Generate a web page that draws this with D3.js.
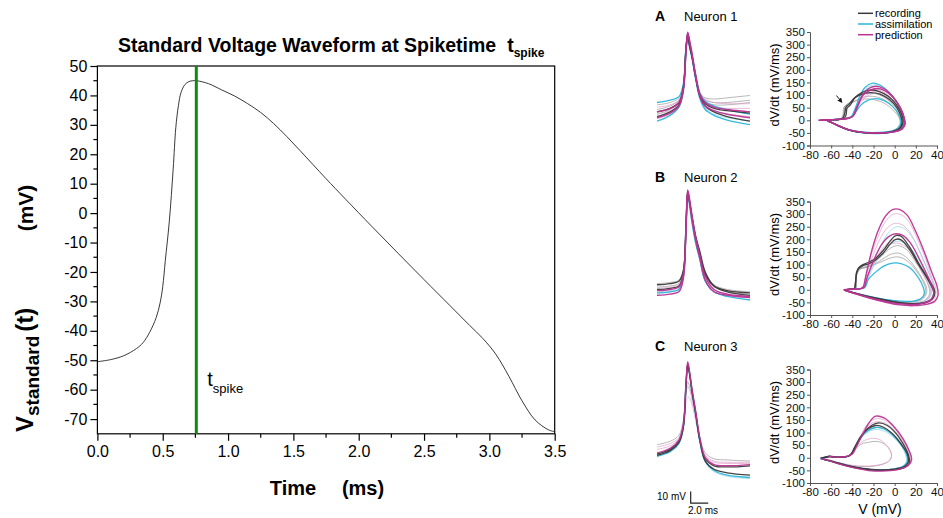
<!DOCTYPE html>
<html lang="en">
<head>
<meta charset="UTF-8">
<title>Standard Voltage Waveform</title>
<script src="https://d3js.org/d3.v7.min.js"></script>
<style>
  body { margin: 0; background: #fff; }
  svg { display: block; font-family: Arial, "Liberation Sans", sans-serif; }
</style>
</head>
<body>
<svg id="main" width="943" height="518"></svg>
<script>
// ---------- left chart data ----------
const timeMs = [0, 0.1, 0.2, 0.3, 0.35, 0.4, 0.45, 0.48, 0.5, 0.52, 0.55, 0.58, 0.6, 0.62, 0.64, 0.67, 0.7, 0.73, 0.76,
  0.85, 0.95, 1.05, 1.15, 1.25, 1.35, 1.45, 1.55, 1.65, 1.75, 1.9, 2.1, 2.3, 2.5, 2.7, 2.85, 2.95, 3.05, 3.15, 3.25, 3.35, 3.45, 3.5];
const vStandard = [-50.5, -49.8, -48.5, -46, -44, -40.5, -35.5, -30.5, -25, -16, -3, 15, 29, 36.5, 41, 43.7, 44.7, 45, 45,
  44.0, 41.9, 39.8, 37.2, 34.2, 30.4, 26.0, 21.3, 16.5, 11.7, 4.7, -4.5, -13.6, -22.6, -31.5, -38.2, -42.6, -48.0, -55.5, -63.8, -70.3, -73.6, -74.3];
const tSpike = 0.757;
const xTicks = [0, 0.5, 1.0, 1.5, 2.0, 2.5, 3.0, 3.5];
const yTicks = [50, 40, 30, 20, 10, 0, -10, -20, -30, -40, -50, -60, -70];

// ---------- right panels data ----------
// waveform time points (ms), values are mV
const waveT = [0, 1.5, 2.5, 3.0, 3.3, 3.5, 3.7, 4.0, 4.4, 4.9, 5.5, 6.5, 8, 10.6];
const wavesA = [
  ['recPale', [-52, -50, -46, -35, -4, 5, -3, -12, -28, -42, -46, -47, -46, -44]],
  ['recPale', [-56, -53, -48, -36, -3, 6, -2, -11, -27, -42, -48, -50, -50, -48]],
  ['recPale', [-60, -56, -50, -38, -5, 6, -2, -12, -29, -44, -50, -52, -52, -50]],
  ['predPale', [-54, -52, -48, -36, -4, 8, 1, -9, -26, -42, -47, -50, -51, -51]],
  ['predPale', [-60, -57, -52, -39, -6, 7, -1, -11, -28, -44, -51, -54, -55, -55]],
  ['predPale', [-64, -60, -54, -40, -7, 7, -1, -12, -29, -46, -54, -58, -60, -62]],
  ['asmPale', [-62, -58, -52, -39, -6, 7, -1, -12, -29, -46, -55, -60, -63, -66]],
  ['asm', [-66, -61, -54, -40, -8, 7, -2, -13, -30, -47, -56, -61, -65, -69]],
  ['asm', [-50, -48, -45, -34, -2, 9, 0, -10, -26, -42, -49, -53, -56, -60]],
  ['rec', [-62, -58, -52, -38, -5, 8, 0, -11, -28, -45, -53, -58, -62, -66]],
  ['rec', [-58, -55, -50, -37, -4, 7, -1, -11, -28, -44, -51, -55, -57, -59]],
  ['pred', [-58, -55, -50, -38, -6, 10, 4, -8, -26, -43, -50, -54, -56, -58]],
  ['pred', [-63, -59, -53, -40, -7, 9, 2, -10, -28, -45, -53, -57, -60, -63]]
];
const wavesB = [
  ['recPale', [-40, -39, -37, -28, 10, 38, 30, 16, -1, -15, -31, -41, -45, -47]],
  ['recPale', [-43, -42, -40, -30, 8, 36, 28, 14, -3, -17, -33, -43, -47, -49]],
  ['predPale', [-44, -43, -41, -31, 7, 37, 29, 16, 0, -14, -31, -42, -46, -48]],
  ['predPale', [-48, -47, -45, -34, 5, 38, 30, 15, -2, -17, -35, -45, -49, -51]],
  ['asmPale', [-47, -46, -44, -33, 4, 34, 25, 10, -6, -21, -38, -47, -50, -52]],
  ['asm', [-48, -47, -45, -34, 5, 37, 28, 12, -5, -20, -38, -47, -51, -54]],
  ['rec', [-41, -40, -38, -29, 9, 39, 31, 16, -1, -15, -32, -42, -46, -48]],
  ['rec', [-45, -44, -42, -31, 7, 37, 30, 17, 1, -13, -30, -42, -47, -50]],
  ['pred', [-46, -45, -43, -32, 8, 40, 33, 18, 0, -16, -34, -45, -49, -51]],
  ['pred', [-50, -49, -47, -36, 4, 38, 30, 14, -3, -19, -37, -47, -50, -52]]
];
const wavesC = [
  ['recPale', [-56, -53, -48, -35, -12, -2, -6, -15, -30, -50, -63, -68, -69, -70]],
  ['predPale', [-58, -55, -50, -37, -14, -6, -9, -18, -33, -52, -65, -70, -71, -71]],
  ['predPale', [-60, -57, -51, -39, -20, -15, -16, -22, -35, -53, -66, -71, -72, -72]],
  ['asmPale', [-65, -61, -54, -41, -6, 12, 4, -12, -30, -54, -71, -79, -83, -85]],
  ['asm', [-66, -62, -55, -42, -7, 12, 5, -12, -30, -54, -70, -78, -82, -84]],
  ['rec', [-64, -60, -53, -40, -5, 13, 6, -10, -28, -52, -68, -74, -75, -74]],
  ['rec', [-65, -61, -54, -41, -6, 12, 5, -11, -29, -53, -70, -77, -80, -82]],
  ['pred', [-63, -59, -52, -39, -4, 15, 7, -9, -27, -51, -67, -73, -74, -73]]
];

// phase loops: [V (mV), dV/dt (mV/ms)]
const loopsA = [
  ['recPale', [[-68,0],[-58,2],[-50,4],[-48,25],[-47,55],[-44,66],[-38,75],[-30,84],[-20,82],[-10,68],[-2,42],[4,12],[5,-12],[2,-32],[-5,-44],[-18,-50],[-32,-48],[-46,-35],[-56,-15],[-62,-4]]],
  ['recPale', [[-70,0],[-60,2],[-52,4],[-49,20],[-48,52],[-45,62],[-40,80],[-33,100],[-24,108],[-14,100],[-4,72],[3,38],[7,5],[6,-20],[1,-40],[-12,-50],[-28,-50],[-44,-38],[-55,-17],[-63,-3]]],
  ['recPale', [[-69,0],[-59,2],[-51,4],[-48,22],[-47,50],[-44,60],[-39,72],[-31,90],[-21,95],[-11,84],[-3,58],[4,25],[6,-8],[4,-28],[-2,-43],[-15,-50],[-30,-49],[-45,-37],[-56,-16],[-62,-4]]],
  ['predPale', [[-70,0],[-60,2],[-50,5],[-42,10],[-38,25],[-33,65],[-26,95],[-18,108],[-10,100],[-2,75],[5,35],[8,0],[7,-25],[2,-40],[-10,-48],[-25,-48],[-42,-38],[-54,-18],[-62,-4]]],
  ['predPale', [[-71,0],[-61,2],[-51,4],[-43,9],[-39,22],[-34,70],[-27,108],[-19,122],[-11,114],[-3,86],[5,42],[9,5],[8,-22],[3,-40],[-9,-49],[-26,-49],[-43,-37],[-55,-17],[-63,-3]]],
  ['predPale', [[-70,0],[-60,2],[-50,5],[-42,11],[-38,28],[-33,72],[-26,102],[-19,115],[-11,108],[-3,80],[4,40],[8,3],[7,-24],[2,-41],[-10,-49],[-26,-49],[-43,-37],[-55,-17],[-62,-3]]],
  ['asmPale', [[-71,0],[-61,2],[-51,4],[-44,9],[-40,18],[-36,55],[-31,100],[-26,128],[-20,140],[-13,134],[-4,104],[4,60],[8,18],[9,-12],[6,-33],[0,-46],[-13,-52],[-29,-51],[-44,-38],[-55,-18],[-63,-4]]],
  ['asm', [[-70,0],[-60,2],[-50,5],[-42,10],[-38,25],[-32,60],[-25,80],[-18,86],[-10,78],[-2,55],[4,20],[6,-5],[4,-28],[-2,-42],[-15,-48],[-30,-47],[-45,-35],[-56,-15],[-62,-3]]],
  ['asm', [[-72,0],[-62,2],[-52,4],[-45,8],[-41,15],[-37,50],[-33,95],[-28,130],[-21,147],[-14,140],[-5,110],[3,65],[8,20],[9,-10],[6,-32],[0,-45],[-12,-52],[-28,-51],[-44,-38],[-55,-18],[-63,-4]]],
  ['rec', [[-70,0],[-62,2],[-54,3],[-48,6],[-46,20],[-45,48],[-42,60],[-37,92],[-30,112],[-23,120],[-15,115],[-6,95],[2,60],[7,20],[8,-5],[6,-28],[0,-42],[-10,-50],[-25,-50],[-40,-42],[-52,-25],[-60,-8],[-64,-2]]],
  ['rec', [[-69,0],[-61,2],[-53,3],[-49,8],[-47,30],[-46,52],[-43,64],[-38,88],[-31,104],[-23,110],[-14,104],[-5,82],[2,50],[6,15],[7,-8],[5,-30],[-1,-44],[-12,-51],[-27,-50],[-42,-40],[-53,-22],[-61,-6]]],
  ['pred', [[-72,0],[-62,2],[-52,4],[-44,8],[-40,14],[-36,50],[-31,95],[-25,125],[-18,135],[-10,125],[-2,95],[5,50],[9,10],[10,-15],[7,-35],[0,-45],[-12,-50],[-28,-49],[-44,-37],[-55,-17],[-63,-3]]],
  ['pred', [[-71,0],[-61,2],[-51,4],[-43,9],[-39,18],[-35,55],[-30,100],[-24,118],[-17,126],[-9,117],[-1,88],[6,45],[9,8],[9,-18],[6,-36],[-1,-46],[-14,-50],[-30,-48],[-45,-36],[-56,-16],[-63,-3]]]
];
const loopsB = [
  ['recPale', [[-48,0],[-40,3],[-37,6],[-36,60],[-33,85],[-27,92],[-20,100],[-12,120],[-4,140],[4,145],[12,125],[20,85],[26,45],[30,10],[30,-15],[26,-38],[18,-48],[5,-48],[-10,-38],[-25,-25],[-38,-12],[-46,-3]]],
  ['recPale', [[-48,0],[-40,3],[-37,6],[-36,55],[-33,80],[-27,90],[-20,105],[-12,135],[-4,165],[3,175],[11,160],[19,115],[27,60],[32,15],[33,-15],[29,-40],[20,-52],[6,-50],[-10,-40],[-25,-27],[-38,-13],[-46,-3]]],
  ['recPale', [[-48,0],[-40,3],[-37,6],[-36,58],[-33,82],[-27,88],[-20,98],[-12,112],[-4,126],[4,130],[12,114],[20,78],[26,40],[29,8],[29,-15],[25,-36],[17,-46],[4,-46],[-11,-37],[-26,-24],[-39,-11],[-46,-3]]],
  ['predPale', [[-48,0],[-40,2],[-33,4],[-29,10],[-26,45],[-20,100],[-13,150],[-5,178],[2,185],[10,172],[18,130],[26,70],[32,20],[34,-12],[31,-38],[23,-52],[10,-55],[-5,-48],[-20,-35],[-34,-18],[-45,-4]]],
  ['predPale', [[-48,0],[-40,2],[-33,4],[-30,10],[-27,55],[-21,130],[-14,200],[-7,245],[0,263],[7,258],[14,230],[22,165],[30,90],[36,30],[38,-10],[35,-40],[27,-55],[14,-60],[0,-55],[-15,-42],[-30,-25],[-42,-10],[-47,-2]]],
  ['predPale', [[-48,0],[-40,2],[-33,4],[-29,10],[-26,48],[-20,105],[-13,155],[-5,190],[2,200],[9,190],[17,150],[25,88],[32,30],[35,-8],[32,-36],[24,-51],[11,-55],[-4,-49],[-19,-36],[-33,-19],[-45,-4]]],
  ['predPale', [[-48,0],[-40,2],[-33,4],[-30,10],[-27,58],[-22,140],[-15,218],[-8,275],[-1,300],[6,298],[13,272],[21,205],[29,125],[35,50],[39,0],[38,-32],[31,-52],[19,-60],[4,-57],[-12,-45],[-28,-28],[-41,-11],[-47,-2]]],
  ['asmPale', [[-48,0],[-40,2],[-32,4],[-28,10],[-25,50],[-19,120],[-12,185],[-5,230],[2,250],[9,243],[16,212],[24,150],[31,80],[36,25],[37,-10],[34,-38],[25,-52],[12,-56],[-2,-50],[-18,-37],[-32,-21],[-44,-6]]],
  ['asmPale', [[-48,0],[-40,2],[-32,4],[-28,10],[-25,45],[-19,100],[-12,150],[-5,180],[2,192],[9,186],[16,160],[24,110],[30,55],[34,12],[34,-16],[30,-40],[21,-52],[8,-52],[-6,-45],[-21,-32],[-35,-17],[-45,-4]]],
  ['asm', [[-48,0],[-40,2],[-32,4],[-28,10],[-25,40],[-18,70],[-10,95],[-2,106],[6,104],[14,88],[22,50],[27,10],[28,-15],[25,-35],[18,-45],[5,-45],[-10,-38],[-25,-25],[-38,-12],[-46,-3]]],
  ['rec', [[-48,0],[-44,2],[-40,3],[-38,5],[-37,30],[-36,70],[-34,88],[-30,100],[-24,110],[-18,125],[-10,160],[-4,195],[1,215],[6,212],[14,170],[22,110],[30,55],[36,15],[38,-10],[36,-35],[30,-50],[20,-56],[8,-54],[-5,-45],[-20,-32],[-32,-20],[-42,-8],[-47,-2]]],
  ['rec', [[-48,0],[-44,2],[-40,3],[-38,5],[-37,28],[-36,66],[-34,84],[-30,96],[-24,104],[-18,118],[-10,150],[-4,182],[1,200],[6,198],[14,160],[22,104],[30,50],[35,12],[37,-12],[35,-36],[29,-50],[19,-55],[7,-52],[-6,-43],[-21,-30],[-33,-18],[-43,-7],[-47,-2]]],
  ['pred', [[-48,0],[-40,2],[-33,4],[-29,10],[-26,50],[-20,115],[-13,175],[-6,210],[1,222],[8,215],[15,185],[23,125],[30,65],[35,18],[37,-14],[34,-40],[26,-54],[13,-58],[-2,-52],[-17,-38],[-32,-21],[-44,-6]]],
  ['pred', [[-48,0],[-40,2],[-33,4],[-30,10],[-27,60],[-22,150],[-16,230],[-9,290],[-2,318],[5,318],[12,295],[20,230],[28,150],[35,70],[40,15],[41,-20],[38,-45],[30,-58],[18,-63],[5,-60],[-10,-48],[-25,-32],[-38,-15],[-46,-4]]]
];
const loopsC = [
  ['recPale', [[-56,2],[-48,4],[-42,12],[-37,35],[-31,55],[-24,62],[-17,65],[-11,58],[-6,40],[-3,15],[-4,-5],[-8,-20],[-15,-30],[-26,-35],[-39,-32],[-51,-22],[-62,-8],[-68,-2]]],
  ['recPale', [[-66,0],[-61,5],[-57,3],[-50,3],[-44,6],[-40,22],[-35,62],[-29,96],[-22,115],[-15,120],[-7,110],[1,84],[8,45],[12,10],[12,-18],[8,-36],[0,-46],[-14,-49],[-30,-43],[-46,-30],[-59,-14],[-68,-3]]],
  ['predPale', [[-56,2],[-48,4],[-42,12],[-37,40],[-30,65],[-23,76],[-16,75],[-10,60],[-5,35],[-3,10],[-4,-8],[-8,-20],[-15,-28],[-27,-33],[-40,-30],[-52,-20],[-62,-7]]],
  ['predPale', [[-63,2],[-59,6],[-56,2],[-48,3],[-43,8],[-39,25],[-34,70],[-28,120],[-21,150],[-14,155],[-6,140],[2,105],[9,60],[15,15],[16,-15],[12,-33],[4,-45],[-9,-50],[-24,-50],[-39,-39],[-53,-24],[-64,-9],[-70,-2]]],
  ['predPale', [[-63,2],[-59,6],[-56,2],[-48,3],[-43,8],[-39,25],[-34,66],[-28,112],[-21,138],[-14,143],[-6,130],[2,98],[9,56],[14,14],[15,-15],[11,-33],[3,-45],[-10,-50],[-25,-49],[-40,-38],[-54,-23],[-64,-8],[-70,-2]]],
  ['asmPale', [[-70,0],[-64,3],[-62,6],[-58,3],[-52,2],[-46,4],[-42,10],[-38,36],[-32,76],[-25,102],[-18,112],[-10,106],[-2,84],[6,48],[10,14],[11,-15],[7,-34],[-1,-44],[-16,-48],[-31,-43],[-46,-30],[-59,-15],[-70,-4]]],
  ['asm', [[-70,0],[-64,3],[-62,6],[-58,3],[-52,2],[-46,4],[-42,10],[-38,38],[-32,80],[-25,108],[-18,120],[-10,114],[-2,90],[6,52],[11,15],[12,-15],[8,-34],[0,-44],[-15,-48],[-30,-43],[-45,-30],[-58,-15],[-70,-4]]],
  ['rec', [[-70,0],[-64,3],[-62,6],[-58,3],[-52,2],[-46,4],[-42,10],[-38,40],[-32,85],[-25,115],[-18,128],[-10,120],[-2,95],[6,55],[12,15],[13,-15],[9,-35],[0,-45],[-15,-48],[-30,-42],[-45,-30],[-58,-15],[-68,-5]]],
  ['rec', [[-68,0],[-62,5],[-58,3],[-50,3],[-44,6],[-40,20],[-35,60],[-29,100],[-22,128],[-15,138],[-7,128],[1,98],[8,55],[13,12],[14,-18],[10,-37],[1,-47],[-14,-50],[-30,-44],[-46,-31],[-59,-15],[-69,-4]]],
  ['pred', [[-63,2],[-60,6],[-57,2],[-50,3],[-45,6],[-40,15],[-36,45],[-30,95],[-24,140],[-18,165],[-10,158],[-1,125],[8,75],[14,25],[16,-5],[13,-30],[5,-45],[-8,-52],[-22,-52],[-38,-40],[-52,-25],[-63,-10],[-70,-3]]]
];
const arrowA = [[-55, 98], [-50, 72]];
const phaseXTicks = [-80, -60, -40, -20, 0, 20, 40];
const phaseYTicks = [350, 300, 250, 200, 150, 100, 50, 0, -50, -100];
const legendNames = ['recording', 'assimilation', 'prediction'];
const scaleBar = { t0: 3.84, v0: -106, dv: 10, dt: 2 };

const styles = {
  rec:      { color: '#3a3a3a', w: 1.3, op: 0.95 },
  recPale:  { color: '#8e8e8e', w: 0.8, op: 0.8 },
  asm:      { color: '#2bb5da', w: 1.3, op: 0.95 },
  asmPale:  { color: '#8fd6ea', w: 0.8, op: 0.9 },
  pred:     { color: '#bb3392', w: 1.4, op: 0.95 },
  predPale: { color: '#e29fcc', w: 0.8, op: 0.9 }
};
const order = ['recPale', 'predPale', 'asmPale', 'asm', 'rec', 'pred'];
const fontStack = 'Arial, "Liberation Sans", sans-serif';

let svg = d3.select('svg#main');

// ================= left chart =================
let x = d3.scaleLinear().domain([0, 3.5]).range([97.4, 554.7]);
let y = d3.scaleLinear().domain([-75, 50]).range([433.8, 66]);

// frame
svg.append('rect')
  .attr('x', x(0)).attr('y', y(50))
  .attr('width', x(3.5) - x(0)).attr('height', y(-75) - y(50))
  .attr('fill', 'none').attr('stroke', '#000').attr('stroke-width', 1.2);

// minor ticks
let yMinor = d3.range(45, -75, -10);
svg.append('g').selectAll('line').data(yMinor).enter().append('line')
  .attr('x1', x(0) - 4).attr('x2', x(0))
  .attr('y1', d => y(d)).attr('y2', d => y(d))
  .attr('stroke', '#000').attr('stroke-width', 1.2);
let xMinor = d3.range(0.25, 3.5, 0.5);
svg.append('g').selectAll('line').data(xMinor).enter().append('line')
  .attr('x1', d => x(d)).attr('x2', d => x(d))
  .attr('y1', y(-75)).attr('y2', y(-75) + 4)
  .attr('stroke', '#000').attr('stroke-width', 1.2);

let yAxis = svg.append('g')
  .attr('transform', 'translate(' + x(0) + ',0)')
  .call(d3.axisLeft(y).tickValues(yTicks).tickSize(7).tickPadding(3).tickFormat(d => String(d)));
let xAxis = svg.append('g')
  .attr('transform', 'translate(0,' + y(-75) + ')')
  .call(d3.axisBottom(x).tickValues(xTicks).tickSize(7).tickPadding(5).tickFormat(d => d.toFixed(1)));
[yAxis, xAxis].forEach(a => {
  a.select('.domain').remove();
  a.selectAll('line').attr('stroke', '#000').attr('stroke-width', 1.2);
  a.selectAll('text').attr('fill', '#000').style('font-size', '16px').style('font-family', fontStack);
});

// voltage curve
let line = d3.line().x((d, i) => x(timeMs[i])).y(d => y(d)).curve(d3.curveCatmullRom.alpha(0.5));
svg.append('path').datum(vStandard)
  .attr('d', line).attr('fill', 'none').attr('stroke', '#222').attr('stroke-width', 0.9);

// spike time marker
svg.append('line')
  .attr('x1', x(tSpike)).attr('x2', x(tSpike))
  .attr('y1', y(50)).attr('y2', y(-75))
  .attr('stroke', '#118a11').attr('stroke-width', 3);

let tl = svg.append('text').attr('x', x(tSpike) + 11).attr('y', 386).style('font-size', '20px');
tl.append('tspan').text('t');
tl.append('tspan').attr('dy', 7).style('font-size', '13px').text('spike');

// title
let title = svg.append('text').attr('x', 118).attr('y', 52)
  .style('font-size', '19.5px').style('font-weight', 'bold');
title.append('tspan').text('Standard Voltage Waveform at Spiketime');
title.append('tspan').attr('dx', 11).text('t');
title.append('tspan').attr('dy', 5).style('font-size', '12px').text('spike');

// axis labels
svg.append('text').attr('x', 293).attr('y', 495).attr('text-anchor', 'middle')
  .style('font-size', '20px').style('font-weight', 'bold').text('Time');
svg.append('text').attr('x', 363).attr('y', 495).attr('text-anchor', 'middle')
  .style('font-size', '20px').style('font-weight', 'bold').text('(ms)');

let yl = svg.append('text').attr('transform', 'translate(33,432) rotate(-90)')
  .attr('text-anchor', 'start').style('font-size', '24px').style('font-weight', 'bold');
yl.append('tspan').text('V');
yl.append('tspan').attr('dy', 6).style('font-size', '19px').text('standard');
yl.append('tspan').attr('dy', -6).attr('dx', 4).style('font-size', '24px').text('(t)');
svg.append('text').attr('transform', 'translate(33,208) rotate(-90)')
  .attr('text-anchor', 'middle').style('font-size', '21px').style('font-weight', 'bold').text('(mV)');

// ================= right panels =================
let xw = d3.scaleLinear().domain([0, 10.6]).range([657, 750]);
let xp = d3.scaleLinear().domain([-80, 40]).range([810, 937]);

const panels = [
  { letter: 'A', name: 'Neuron 1', labelY: 21, zeroY: 44, top: 32, waves: wavesA, loops: loopsA },
  { letter: 'B', name: 'Neuron 2', labelY: 182, zeroY: 236.8, top: 201.5, waves: wavesB, loops: loopsB },
  { letter: 'C', name: 'Neuron 3', labelY: 351, zeroY: 379.2, top: 369.5, waves: wavesC, loops: loopsC }
];

panels.forEach(p => {
  let g = svg.append('g');
  g.append('text').attr('x', 655).attr('y', p.labelY).style('font-size', '14px').style('font-weight', 'bold').text(p.letter);
  g.append('text').attr('x', 684).attr('y', p.labelY).style('font-size', '13px').text(p.name);

  // waveforms
  let yw = d3.scaleLinear().domain([-100, 0]).range([p.zeroY + 117, p.zeroY]);
  let wl = d3.line().x((d, i) => xw(waveT[i])).y(d => yw(d)).curve(d3.curveCatmullRom.alpha(0.5));
  let waves = p.waves.slice().sort((a, b) => order.indexOf(a[0]) - order.indexOf(b[0]));
  g.append('g').selectAll('path').data(waves).enter().append('path')
    .attr('d', d => wl(d[1]))
    .attr('fill', 'none')
    .attr('stroke', d => styles[d[0]].color)
    .attr('stroke-width', d => styles[d[0]].w)
    .attr('stroke-opacity', d => styles[d[0]].op);

  // phase plot
  let yp = d3.scaleLinear().domain([-100, 350]).range([p.top + 113.5, p.top]);
  let pl = d3.line().x(d => xp(d[0])).y(d => yp(d[1])).curve(d3.curveCatmullRom.alpha(0.5));
  let loops = p.loops.slice().sort((a, b) => order.indexOf(a[0]) - order.indexOf(b[0]));
  g.append('g').selectAll('path').data(loops).enter().append('path')
    .attr('d', d => pl(d[1]))
    .attr('fill', 'none')
    .attr('stroke', d => styles[d[0]].color)
    .attr('stroke-width', d => styles[d[0]].w)
    .attr('stroke-opacity', d => styles[d[0]].op);

  let ya = g.append('g').attr('transform', 'translate(' + xp(-80) + ',0)')
    .call(d3.axisLeft(yp).tickValues(phaseYTicks).tickSize(3).tickPadding(2).tickFormat(d => String(d)));
  let xa = g.append('g').attr('transform', 'translate(0,' + yp(-100) + ')')
    .call(d3.axisBottom(xp).tickValues(phaseXTicks).tickSize(3).tickPadding(2).tickFormat(d => String(d)));
  [ya, xa].forEach(a => {
    a.select('.domain').attr('stroke', '#555');
    a.selectAll('line').attr('stroke', '#555');
    a.selectAll('text').attr('fill', '#111').style('font-size', '11.5px').style('font-family', fontStack);
  });
  g.append('text')
    .attr('transform', 'translate(779,' + (p.top + 53) + ') rotate(-90)')
    .attr('text-anchor', 'middle').style('font-size', '13px').text('dV/dt (mV/ms)');
});

// arrow in panel A
let ypA = d3.scaleLinear().domain([-100, 350]).range([32 + 113.5, 32]);
svg.append('defs').append('marker').attr('id', 'ah').attr('viewBox', '0 0 10 10')
  .attr('refX', 8).attr('refY', 5).attr('markerWidth', 5).attr('markerHeight', 5).attr('orient', 'auto')
  .append('path').attr('d', 'M0,0 L10,5 L0,10 z').attr('fill', '#111');
svg.append('line')
  .attr('x1', xp(arrowA[0][0])).attr('y1', ypA(arrowA[0][1]))
  .attr('x2', xp(arrowA[1][0])).attr('y2', ypA(arrowA[1][1]))
  .attr('stroke', '#111').attr('stroke-width', 1).attr('marker-end', 'url(#ah)');

// legend
let legend = svg.selectAll('.legend').data(legendNames).enter().append('g')
  .attr('class', 'legend')
  .attr('transform', (d, i) => 'translate(858,' + (13.3 + i * 10.7) + ')');
legend.append('line').attr('x1', 0).attr('x2', 15)
  .attr('stroke', (d, i) => styles[['rec', 'asm', 'pred'][i]].color).attr('stroke-width', 1.5);
legend.append('text').attr('x', 17).attr('y', 4).style('font-size', '11px').text(d => d);

// scale bar (panel C waveform units) + V label
let yC = d3.scaleLinear().domain([-100, 0]).range([379.2 + 117, 379.2]);
svg.append('path')
  .attr('d', 'M' + xw(scaleBar.t0) + ',' + yC(scaleBar.v0 + scaleBar.dv) +
    'V' + yC(scaleBar.v0) + 'H' + xw(scaleBar.t0 + scaleBar.dt))
  .attr('fill', 'none').attr('stroke', '#222').attr('stroke-width', 1.2);
svg.append('text').attr('x', 657).attr('y', 500).style('font-size', '10px').text('10 mV');
svg.append('text').attr('x', 688).attr('y', 514).style('font-size', '10px').text('2.0 ms');
svg.append('text').attr('x', 880).attr('y', 514).attr('text-anchor', 'middle').style('font-size', '14px').text('V (mV)');
</script>
</body>
</html>
